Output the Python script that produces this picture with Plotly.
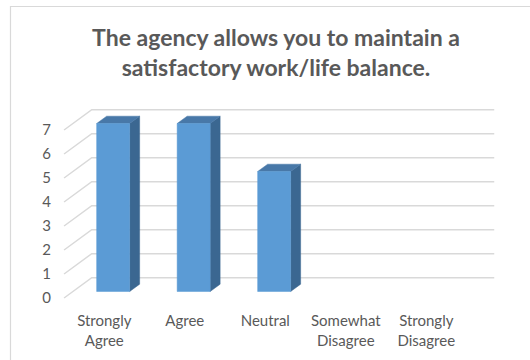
import plotly.graph_objects as go

# Survey responses
categories = ["Strongly<br>Agree", "Agree", "Neutral", "Somewhat<br>Disagree", "Strongly<br>Disagree"]
counts = [7, 7, 5, 0, 0]
y_ticks = [0, 1, 2, 3, 4, 5, 6, 7]

title_text = "The agency allows you to maintain a<br>satisfactory work/life balance."

# 3D look: depth of the floor/back wall expressed in axis units
DEPTH_X = 0.344   # category units
DEPTH_Y = 0.846   # value units
BAR_FRONT = 0.32  # fraction of depth where bars start
BAR_BACK = 0.68   # fraction of depth where bars end
HALF_W = 0.205    # half bar width, category units

FRONT_COLOR = "#5B9BD5"
SIDE_COLOR = "#3B6791"
TOP_COLOR = "#4878A8"
GRID_COLOR = "#D9D9D9"
TEXT_COLOR = "#595959"

n = len(categories)
x_left = -0.5
x_right = n - 0.5

fig = go.Figure()

# back wall gridlines plus the diagonals along the left side wall
gx, gy = [], []
for v in y_ticks:
    gx += [x_left, x_left + DEPTH_X, x_right + DEPTH_X, None]
    gy += [v, v + DEPTH_Y, v + DEPTH_Y, None]
fig.add_trace(go.Scatter(x=gx, y=gy, mode="lines",
                         line=dict(color=GRID_COLOR, width=1.5),
                         hoverinfo="skip", showlegend=False))

fx0, fy0 = DEPTH_X * BAR_FRONT, DEPTH_Y * BAR_FRONT
fx1, fy1 = DEPTH_X * BAR_BACK, DEPTH_Y * BAR_BACK

front_x, front_y, side_x, side_y, top_x, top_y = [], [], [], [], [], []
for i, v in enumerate(counts):
    if v <= 0:
        continue
    l, r = i - HALF_W, i + HALF_W
    front_x += [l + fx0, r + fx0, r + fx0, l + fx0, l + fx0, None]
    front_y += [fy0, fy0, v + fy0, v + fy0, fy0, None]
    side_x += [r + fx0, r + fx1, r + fx1, r + fx0, r + fx0, None]
    side_y += [fy0, fy1, v + fy1, v + fy0, fy0, None]
    top_x += [l + fx0, l + fx1, r + fx1, r + fx0, l + fx0, None]
    top_y += [v + fy0, v + fy1, v + fy1, v + fy0, v + fy0, None]

for xs, ys, col in [(side_x, side_y, SIDE_COLOR), (top_x, top_y, TOP_COLOR),
                    (front_x, front_y, FRONT_COLOR)]:
    fig.add_trace(go.Scatter(x=xs, y=ys, mode="lines", fill="toself",
                             fillcolor=col, line=dict(color=col, width=0.5),
                             hoverinfo="skip", showlegend=False))

W, H = 530, 360
ML, MR, MT, MB = 54, 20, 100, 55
plot_w = W - ML - MR
plot_h = H - MT - MB

# axis ranges chosen so one category step is ~80.5px and one value step 24px
px_per_cat = 80.5
px_per_val = 24.0
cat0_px = 104.3
val0_px = 298.0
x_range = [(ML - cat0_px) / px_per_cat, (W - MR - cat0_px) / px_per_cat]
y_range = [(val0_px - (H - MB)) / px_per_val, (val0_px - MT) / px_per_val]

fig.update_layout(
    width=W, height=H,
    margin=dict(l=ML, r=MR, t=MT, b=MB),
    paper_bgcolor="white", plot_bgcolor="white",
    font=dict(family="Lato, Arial, sans-serif", color=TEXT_COLOR, size=15),
    title=dict(text=title_text, x=276 / W, xanchor="center",
               y=1 - 46 / H, yanchor="top", yref="container",
               font=dict(family="Lato, Arial, sans-serif", size=23,
                         color=TEXT_COLOR, weight="bold")),
    xaxis=dict(range=x_range, tickmode="array", tickvals=list(range(n)),
               ticktext=categories, showgrid=False, zeroline=False,
               showline=False, ticks="", ticklabelstandoff=5, fixedrange=True),
    yaxis=dict(range=y_range, tickmode="array", tickvals=y_ticks,
               ticktext=[str(t) for t in y_ticks], showgrid=False,
               zeroline=False, showline=False, ticks="",
               ticklabelstandoff=2, fixedrange=True),
    shapes=[dict(type="rect", xref="paper", yref="paper",
                 x0=(10.5 - ML) / plot_w, x1=1.2,
                 y0=-0.6, y1=(H - MB - 6.5) / plot_h,
                 line=dict(color=GRID_COLOR, width=1.2), fillcolor="rgba(0,0,0,0)",
                 layer="below")],
)

fig.write_html("out.html")
